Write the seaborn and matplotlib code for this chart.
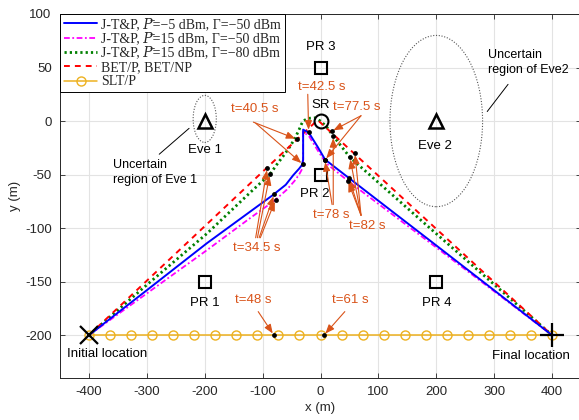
import matplotlib
matplotlib.use("Agg")
import matplotlib.pyplot as plt
import seaborn as sns
import pandas as pd
from matplotlib.patches import Ellipse

# ---------------- data ----------------
blue_x = [-400, -300, -196, -120, -82, -60, -47, -37, -32, -30, -30, -20, -5, 8, 50, 190, 400]
blue_y = [-200, -158, -114, -84, -69, -59.5, -50.5, -44.5, -41, -36, -8, -11, -24, -36, -53.6, -112, -200]

mag_x = [-400, -300, -196, -120, -80, -58, -45, -37, -32, -30, -30, -20, -3, 10, 50, 190, 400]
mag_y = [-200, -161, -120.5, -90, -74.5, -64, -56, -50, -45, -39, -10, -14, -29, -39.5, -57, -114, -200]

green_x = [-400, -300, -196, -120, -87, -76, -62, -53, -44, -37, -33, -30, -22, -10, 0, 10, 16, 25, 51, 120, 189, 400]
green_y = [-200, -153, -105, -66, -49.5, -41, -31, -24, -16, -8, -3, 0, 2.5, 3, 0, -5, -9.5, -16, -34, -67, -100, -200]

red_x = [-400, -5, 400]
red_y = [-200, 1, -200]

slt_x = [-400, -363.6, -327.3, -290.9, -254.5, -218.2, -181.8, -145.5, -109.1, -72.7, -36.4, 0,
         36.4, 72.7, 109.1, 145.5, 181.8, 218.2, 254.5, 290.9, 327.3, 363.6, 400]
slt_y = [-200, -200, -200, -200, -200, -200, -200, -200, -200, -200, -200, -200,
         -200, -200, -200, -200, -200, -200, -200, -200, -200, -200, -200]

PBAR = "\U0001D443\u0304"
series_labels = ["J-T&P, " + PBAR + "=\u22125 dBm, \u0393=\u221250 dBm",
                 "J-T&P, " + PBAR + "=15 dBm, \u0393=\u221250 dBm",
                 "J-T&P, " + PBAR + "=15 dBm, \u0393=\u221280 dBm",
                 "BET/P, BET/NP",
                 "SLT/P"]

# nodes
pr_x = [-200, 0, 0, 200]
pr_y = [-150, -50, 50, -150]
pr_labels = ["PR 1", "PR 2", "PR 3", "PR 4"]
pr_label_x = [-200, -10, 0, 200]
pr_label_y = [-170, -68, 69, -170]

eve_x = [-200, 200]
eve_y = [0, 0]
eve_labels = ["Eve 1", "Eve 2"]
eve_label_x = [-200, 197]
eve_label_y = [-27, -23]
eve_region_w = [40, 160]
eve_region_h = [44, 160]
eve_region_cy = [2, 0]

sr_x, sr_y = [0], [0]
start_xy = (-400, -200)
end_xy = (400, -200)

# time annotations
ann_labels = ["t=34.5 s", "t=40.5 s", "t=42.5 s", "t=77.5 s", "t=78 s", "t=82 s", "t=48 s", "t=61 s"]
ann_tx = [-110, -113, 3, 63, 19, 80, -116, 51]
ann_ty = [-119, 11, 32, 13, -88, -98, -167, -167]

arrow_x0 = [-112, -109, -106, -104, -116, -112, -22, 70, 70, 22, 20, 70, 70, 70, 70, -107.6, 42]
arrow_y0 = [-109, -109, -109, -109, -1, -2, 25, 5, 5, -78, -78, -88, -88, -88, -88, -178, -178]
arrow_x1 = [-92, -87.4, -80, -77.6, -40.2, -30.4, -20.5, 19.2, 7.6, 22, 7.6, 50.8, 59.4, 49, 47, -80.5, 6]
arrow_y1 = [-44, -49.5, -68.5, -73.5, -17.1, -40.5, -10, -9.5, -36.4, -14, -36.4, -34, -29.7, -53.2, -55.7, -200, -200]

# ---------------- style ----------------
sns.set_theme(style="ticks")
plt.rcParams["font.family"] = ["Liberation Sans", "DejaVu Sans"]
plt.rcParams["axes.unicode_minus"] = False

ORANGE = "#D95319"
AXC = "#262626"

fig = plt.figure(figsize=(5.79, 4.2), dpi=100)
ax = fig.add_axes([60 / 579, 42 / 420, 521 / 579, 364 / 420])

# trajectories
sns.lineplot(x=blue_x, y=blue_y, sort=False, estimator=None, color="#0000FF", lw=1.4,
             label=series_labels[0], ax=ax, zorder=4)
sns.lineplot(x=mag_x, y=mag_y, sort=False, estimator=None, color="#FF00FF", lw=1.3,
             linestyle=(0, (3.2, 1.4, 1.0, 1.4)), label=series_labels[1], ax=ax, zorder=3)
sns.lineplot(x=green_x, y=green_y, sort=False, estimator=None, color="#008000", lw=2.0,
             linestyle=(0, (0.8, 1.1)), label=series_labels[2], ax=ax, zorder=3)
sns.lineplot(x=red_x, y=red_y, sort=False, estimator=None, color="#FF0000", lw=1.4,
             linestyle=(0, (3.0, 2.6)), label=series_labels[3], ax=ax, zorder=3)
sns.lineplot(x=slt_x, y=slt_y, sort=False, estimator=None, color="#EDB120", lw=1.1,
             marker="o", ms=6.5, mfc="none", mec="#EDB120", mew=1.0,
             label=series_labels[4], ax=ax, zorder=3)

# Uncertain regions
for ex, ey, w, h in zip(eve_x, eve_region_cy, eve_region_w, eve_region_h):
    ax.add_patch(Ellipse((ex, ey), w, h, fill=False, ls=(0, (1, 1.5)), lw=0.8,
                         ec="#555555", zorder=2))

# nodes
ax.plot(pr_x, pr_y, ls="none", marker="s", ms=8, mfc="none", mec="black", mew=1.5, zorder=6)
ax.plot(eve_x, eve_y, ls="none", marker="^", ms=10, mfc="none", mec="black", mew=1.8, zorder=6)
ax.plot(sr_x, sr_y, ls="none", marker="o", ms=10, mfc="none", mec="black", mew=1.5, zorder=6)
ax.plot([start_xy[0]], [start_xy[1]], ls="none", marker="x", ms=13, mec="black", mew=1.6, zorder=7)
ax.plot([end_xy[0]], [end_xy[1]], ls="none", marker="+", ms=17, mec="black", mew=1.6, zorder=7)

FS = 9.5
for lab, x, y in zip(pr_labels, pr_label_x, pr_label_y):
    ax.text(x, y, lab, ha="center", va="center", fontsize=FS, color="black", zorder=8)
for lab, x, y in zip(eve_labels, eve_label_x, eve_label_y):
    ax.text(x, y, lab, ha="center", va="center", fontsize=FS, color="black", zorder=8)
ax.text(1, 15, "SR", ha="center", va="center", fontsize=FS, color="black", zorder=8)
ax.text(-438, -218, "Initial location", ha="left", va="center", fontsize=FS, color="black")
ax.text(364, -219, "Final location", ha="center", va="center", fontsize=FS, color="black")

ax.text(290, 55, "Uncertain\nregion of Eve2", ha="left", va="center", fontsize=9,
        color="black", linespacing=1.3)
ax.plot([324, 288], [34.3, 8.9], color="black", lw=0.7)
ax.text(-359, -48, "Uncertain\nregion of Eve 1", ha="left", va="center", fontsize=9,
        color="black", linespacing=1.3)
ax.plot([-278.6, -227], [-31, -6.8], color="black", lw=0.7)

# time annotations
for lab, x, y in zip(ann_labels, ann_tx, ann_ty):
    ax.text(x, y, lab, ha="center", va="center", fontsize=FS, color=ORANGE, zorder=8)
for x0, y0, x1, y1 in zip(arrow_x0, arrow_y0, arrow_x1, arrow_y1):
    ax.annotate("", xy=(x1, y1), xytext=(x0, y0),
                arrowprops=dict(arrowstyle="-|>,head_length=0.45,head_width=0.18",
                                color=ORANGE, lw=0.8, shrinkA=0, shrinkB=1.5),
                zorder=7)
dots = pd.DataFrame({"x": arrow_x1, "y": arrow_y1})
sns.scatterplot(data=dots, x="x", y="y", color="black", s=12, linewidth=0, ax=ax, zorder=8,
                legend=False)

# axes
ax.set_xlim(-450, 450)
ax.set_ylim(-240, 100)
ax.set_xticks([-400, -300, -200, -100, 0, 100, 200, 300, 400])
ax.set_yticks([-200, -150, -100, -50, 0, 50, 100])
ax.grid(True, color="#e3e3e3", lw=0.8)
ax.set_axisbelow(True)
for s in ax.spines.values():
    s.set_color(AXC)
    s.set_linewidth(0.7)
ax.tick_params(direction="in", top=True, right=True, length=3.5, width=0.6,
               color=AXC, labelcolor=AXC, labelsize=9.5, pad=6)
ax.set_xlabel("x (m)", fontsize=FS, color=AXC, labelpad=3)
ax.set_ylabel("y (m)", fontsize=FS, color=AXC, labelpad=3)

leg = ax.legend(loc="upper left", bbox_to_anchor=(0, 1), borderaxespad=0,
                prop={"family": ["Liberation Serif", "DejaVu Serif", "STIXGeneral"], "size": 10},
                handlelength=2.4, handletextpad=0.3, labelspacing=0.1, handleheight=0.6,
                borderpad=0.28, fancybox=False, framealpha=1, edgecolor="black")
leg.get_frame().set_linewidth(0.7)
leg.set_zorder(20)

fig.savefig("out.png", dpi=100)
